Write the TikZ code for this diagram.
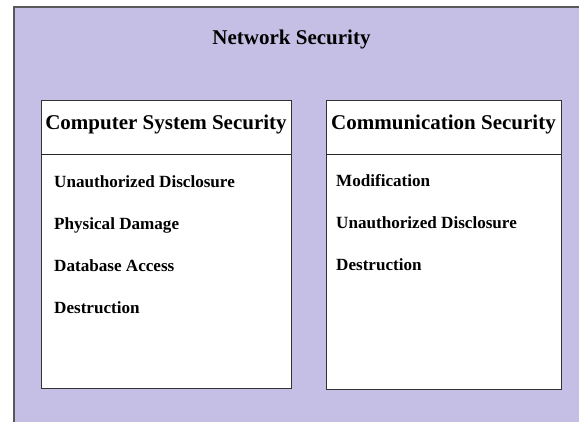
\documentclass[tikz,border=0pt]{standalone}
\usepackage{fontspec}
\setmainfont{Liberation Serif}
\begin{document}
\begin{tikzpicture}[x=1pt,y=-1pt,
  panel/.style={draw=black!80, line width=0.9pt, fill=white, anchor=north west, inner sep=0pt},
  headtext/.style={anchor=base, inner sep=0pt, font=\fontsize{21}{24}\selectfont\bfseries},
  itemtext/.style={anchor=base west, inner sep=0pt, font=\fontsize{17.1}{20}\selectfont\bfseries}]
\definecolor{lavender}{RGB}{198,191,229}
\useasboundingbox (0,0) rectangle (579,421);
\begin{scope}
\clip (0,0) rectangle (579,421);
\draw[draw=black!65, line width=1.4pt, fill=lavender] (14,7) rectangle (600,440);
\end{scope}
\node[headtext] (net) at (291.5,44) {Network Security};
% Computer system security panel
\node[panel, minimum width=250, minimum height=288] (cbox) at (41,100) {};
\coordinate (cl) at (41,154);
\coordinate (cr) at (291,154);
\draw[black!85, line width=0.9pt] (cl) -- (cr);
\node[headtext] (chead) at (166,129.5) {Computer System Security};
\node[itemtext] (c1) at (54,187) {Unauthorized Disclosure};
\node[itemtext] (c2) at (54,229) {Physical Damage};
\node[itemtext] (c3) at (54,271) {Database Access};
\node[itemtext] (c4) at (54,313) {Destruction};
% Communication security panel
\node[panel, minimum width=235, minimum height=289] (mbox) at (326,100) {};
\coordinate (ml) at (326,154);
\coordinate (mr) at (561,154);
\draw[black!85, line width=0.9pt] (ml) -- (mr);
\node[headtext] (mhead) at (443.5,129.5) {Communication Security};
\node[itemtext] (m1) at (336,186.5) {Modification};
\node[itemtext] (m2) at (336,228.5) {Unauthorized Disclosure};
\node[itemtext] (m3) at (336,270.5) {Destruction};
\end{tikzpicture}
\end{document}
